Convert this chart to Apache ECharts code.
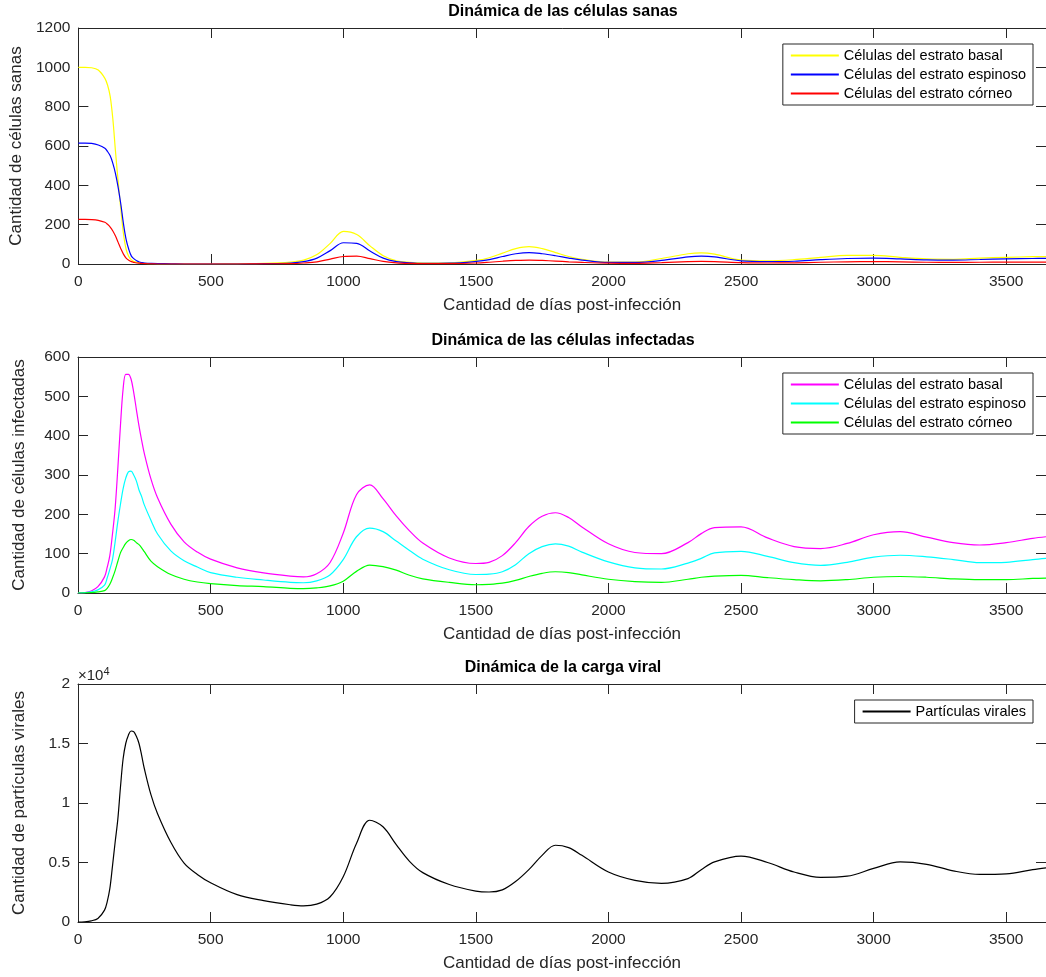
<!DOCTYPE html>
<html>
<head>
<meta charset="utf-8">
<title>Dinámica</title>
<script src="https://cdn.jsdelivr.net/npm/echarts@6/dist/echarts.min.js"></script>
<style>
  html, body { margin: 0; padding: 0; background: #fff; }
  #main { width: 1046px; height: 977px; }
</style>
</head>
<body>
<div id="main"></div>
<script>
// dias post-infeccion (muestreo mas fino al principio)
var days = [0, 25, 50, 75, 100, 110, 120, 130, 140, 150, 160, 170, 180, 190, 200, 210, 220, 230, 240, 250,
  275, 300, 350, 400, 450, 500, 600, 700, 800, 850, 900, 950, 1000, 1050, 1100, 1150, 1200, 1250, 1300,
  1400, 1500, 1550, 1600, 1650, 1700, 1750, 1800, 1850, 1900, 2000, 2100, 2200, 2300, 2350, 2400, 2500,
  2600, 2700, 2800, 2900, 3000, 3100, 3200, 3300, 3400, 3500, 3600, 3650];

// celulas sanas
var sanoBasal = [1000, 1000, 998, 986, 944, 910, 852, 737, 572, 420, 280, 155, 75, 38, 21, 13, 9, 6, 4, 3,
  2, 1, 0, 0, 0, 0, 1, 3, 10, 20, 48, 105, 166, 150, 92, 42, 16, 8, 5,
  6, 18, 32, 55, 78, 88, 78, 58, 38, 24, 10, 10, 28, 52, 57, 50, 20,
  16, 22, 34, 44, 44, 34, 26, 24, 30, 34, 37, 38];
var sanoEspinoso = [615, 615, 613, 605, 588, 572, 550, 512, 460, 390, 305, 205, 125, 75, 40, 26, 16, 10, 7, 5,
  3, 2, 1, 0, 0, 0, 0, 2, 5, 12, 30, 68, 108, 105, 66, 30, 12, 6, 3,
  4, 13, 22, 38, 52, 58, 52, 42, 30, 20, 8, 8, 18, 36, 40, 36, 16,
  12, 14, 22, 28, 30, 26, 21, 20, 23, 26, 28, 29];
var sanoCorneo = [227, 227, 226, 222, 212, 202, 188, 168, 142, 110, 78, 50, 30, 19, 12, 8, 5, 4, 3, 2,
  1, 0, 0, 0, 0, 0, 0, 1, 2, 5, 11, 25, 38, 40, 27, 13, 6, 3, 2,
  2, 5, 9, 14, 18, 20, 18, 15, 11, 8, 4, 3, 7, 12, 13, 12, 7,
  5, 6, 9, 11, 12, 11, 9, 8, 9, 10, 10, 10];

// celulas infectadas
var infBasal = [0, 1, 5, 16, 41, 65, 95, 150, 215, 315, 425, 518, 556, 556, 544, 510, 467, 425, 388, 355,
  290, 242, 175, 130, 104, 86, 64, 51, 43, 41, 49, 77, 152, 250, 275, 240, 196, 158, 127,
  89, 75, 78, 95, 128, 169, 195, 204, 192, 168, 125, 103, 100, 128, 151, 166, 168,
  140, 118, 113, 126, 148, 156, 142, 128, 122, 128, 139, 143];
var infEspinoso = [0, 1, 3, 8, 20, 38, 60, 85, 130, 181, 225, 265, 292, 308, 310, 300, 285, 262, 245, 224,
  185, 150, 107, 82, 66, 52, 40, 33, 27, 26, 31, 46, 85, 143, 165, 156, 132, 108, 86,
  59, 47, 48, 54, 72, 100, 118, 125, 119, 104, 79, 64, 61, 76, 88, 102, 106,
  93, 77, 70, 78, 91, 96, 92, 85, 77, 78, 85, 88];
var infCorneo = [0, 0, 1, 3, 6, 12, 22, 38, 57, 80, 102, 115, 126, 133, 136, 134, 128, 123, 115, 105,
  81, 67, 47, 35, 28, 24, 19, 16, 12, 11, 13, 18, 30, 55, 71, 67, 58, 45, 36,
  27, 21, 22, 25, 32, 42, 50, 54, 52, 46, 35, 29, 27, 35, 40, 43, 45,
  39, 34, 31, 34, 40, 42, 40, 36, 34, 34, 37, 38];

// carga viral
var viral = [0, 20, 100, 300, 1000, 1700, 2800, 4700, 6700, 8600, 11300, 13700, 15000, 15700, 16050, 16000, 15600, 15000, 14000, 12900,
  10700, 9100, 6700, 4950, 4000, 3300, 2300, 1800, 1450, 1350, 1500, 2100, 3800, 6600, 8550, 8000, 6500, 5100, 4150,
  3150, 2600, 2520, 2700, 3400, 4400, 5600, 6450, 6250, 5600, 4200, 3500, 3250, 3650, 4400, 5050, 5540,
  5000, 4200, 3750, 3850, 4500, 5050, 4850, 4300, 4000, 4050, 4400, 4550];

var xTicks = { min: 0, max: 3650, step: 500 };
var yTicks = [
  { min: 0, max: 1200, step: 200 },
  { min: 0, max: 600, step: 100 },
  { min: 0, max: 20000, step: 5000 }
];
var titles = ['Dinámica de las células sanas', 'Dinámica de las células infectadas', 'Dinámica de la carga viral'];
var yNames = ['Cantidad de células sanas', 'Cantidad de células infectadas', 'Cantidad de partículas virales'];
var xName = 'Cantidad de días post-infección';

var nombres = ['Células del estrato basal', 'Células del estrato espinoso', 'Células del estrato córneo'];

var FONT = '"Liberation Sans", Arial, Helvetica, sans-serif';
var INK = '#262626';
var gridTops = [28, 357, 684];
var gridHeights = [236, 236, 238];

function pairs(vals) {
  return days.map(function (d, k) { return [d, vals[k]]; });
}

var grids = [], xAxes = [], yAxes = [], titleList = [], legends = [], series = [];

for (var i = 0; i < 3; i++) {
  grids.push({ left: 78, top: gridTops[i], width: 970, height: gridHeights[i], containLabel: false });
  titleList.push({
    text: titles[i], left: 563, top: gridTops[i] - 24, textAlign: 'center', padding: 0,
    textStyle: { fontFamily: FONT, fontSize: 16, fontWeight: 'bold', color: '#000' }
  });
  var axLine = { show: true, onZero: false, lineStyle: { color: INK, width: 1 } };
  var axTick = { show: true, inside: true, length: 10, lineStyle: { color: INK } };
  xAxes.push({
    gridIndex: i, type: 'value', position: 'bottom', min: xTicks.min, max: xTicks.max, interval: xTicks.step,
    axisLine: axLine, axisTick: axTick, splitLine: { show: false },
    axisLabel: { color: INK, fontFamily: FONT, fontSize: 15.5, margin: 10, showMaxLabel: false,
      formatter: function (v) { return String(v); } },
    name: xName, nameLocation: 'middle', nameGap: 33,
    nameTextStyle: { color: INK, fontFamily: FONT, fontSize: 17 }
  });
  xAxes.push({
    gridIndex: i, type: 'value', position: 'top', min: xTicks.min, max: xTicks.max, interval: xTicks.step,
    axisLine: axLine, axisTick: axTick, splitLine: { show: false }, axisLabel: { show: false }
  });
  var yl = {
    gridIndex: i, type: 'value', position: 'left', min: yTicks[i].min, max: yTicks[i].max, interval: yTicks[i].step,
    axisLine: axLine, axisTick: axTick, splitLine: { show: false },
    axisLabel: { color: INK, fontFamily: FONT, fontSize: 15.5, margin: 8,
      formatter: function (v) { return String(v); } },
    name: yNames[i], nameLocation: 'middle', nameGap: 50,
    nameTextStyle: { color: INK, fontFamily: FONT, fontSize: 17 }
  };
  if (i == 2) {
    yl.axisLabel.formatter = function (v) { return String(v / 10000); };
  }
  yAxes.push(yl);
  yAxes.push({
    gridIndex: i, type: 'value', position: 'right', min: yTicks[i].min, max: yTicks[i].max, interval: yTicks[i].step,
    axisLine: axLine, axisTick: axTick, splitLine: { show: false }, axisLabel: { show: false }
  });
}

function addLine(name, color, vals, g) {
  series.push({
    name: name, type: 'line', xAxisIndex: g * 2, yAxisIndex: g * 2,
    data: pairs(vals), showSymbol: false, symbol: 'none', smooth: 0.35,
    lineStyle: { color: color, width: 1.2 }, itemStyle: { color: color }
  });
}

// nombres internos distintos por panel, el texto visible sale del formatter
addLine('s1', '#ffff00', sanoBasal, 0);
addLine('s2', '#0000ff', sanoEspinoso, 0);
addLine('s3', '#ff0000', sanoCorneo, 0);
addLine('i1', '#ff00ff', infBasal, 1);
addLine('i2', '#00ffff', infEspinoso, 1);
addLine('i3', '#00ff00', infCorneo, 1);
addLine('v1', '#000000', viral, 2);

var etiquetas = {
  s1: nombres[0], s2: nombres[1], s3: nombres[2],
  i1: nombres[0], i2: nombres[1], i3: nombres[2],
  v1: 'Partículas virales'
};

function makeLegend(data, top) {
  return {
    data: data, right: 13, top: top, orient: 'vertical', selectedMode: false,
    itemWidth: 48, itemHeight: 15, itemGap: 4,
    itemStyle: { opacity: 0 },
    padding: [4, 7, 4, 7], borderColor: INK, borderWidth: 1, backgroundColor: '#fff',
    textStyle: { fontFamily: FONT, fontSize: 14.5, color: '#000' },
    formatter: function (n) { return etiquetas[n]; }
  };
}
legends.push(makeLegend(['s1', 's2', 's3'], 44));
legends.push(makeLegend(['i1', 'i2', 'i3'], 373));
legends.push(makeLegend(['v1'], 700));

// factor de escala del eje y del ultimo panel
titleList.push({
  text: '×10{sup|4}', left: 78, top: 666, padding: 0,
  textStyle: {
    fontFamily: FONT, fontSize: 15, fontWeight: 'normal', color: INK,
    rich: { sup: { fontFamily: FONT, fontSize: 11, color: INK, padding: [0, 0, 9, 0] } }
  }
});

var chart = echarts.init(document.getElementById('main'));
chart.setOption({
  animation: false,
  backgroundColor: '#fff',
  title: titleList,
  grid: grids,
  xAxis: xAxes,
  yAxis: yAxes,
  legend: legends,
  series: series
});
</script>
</body>
</html>
